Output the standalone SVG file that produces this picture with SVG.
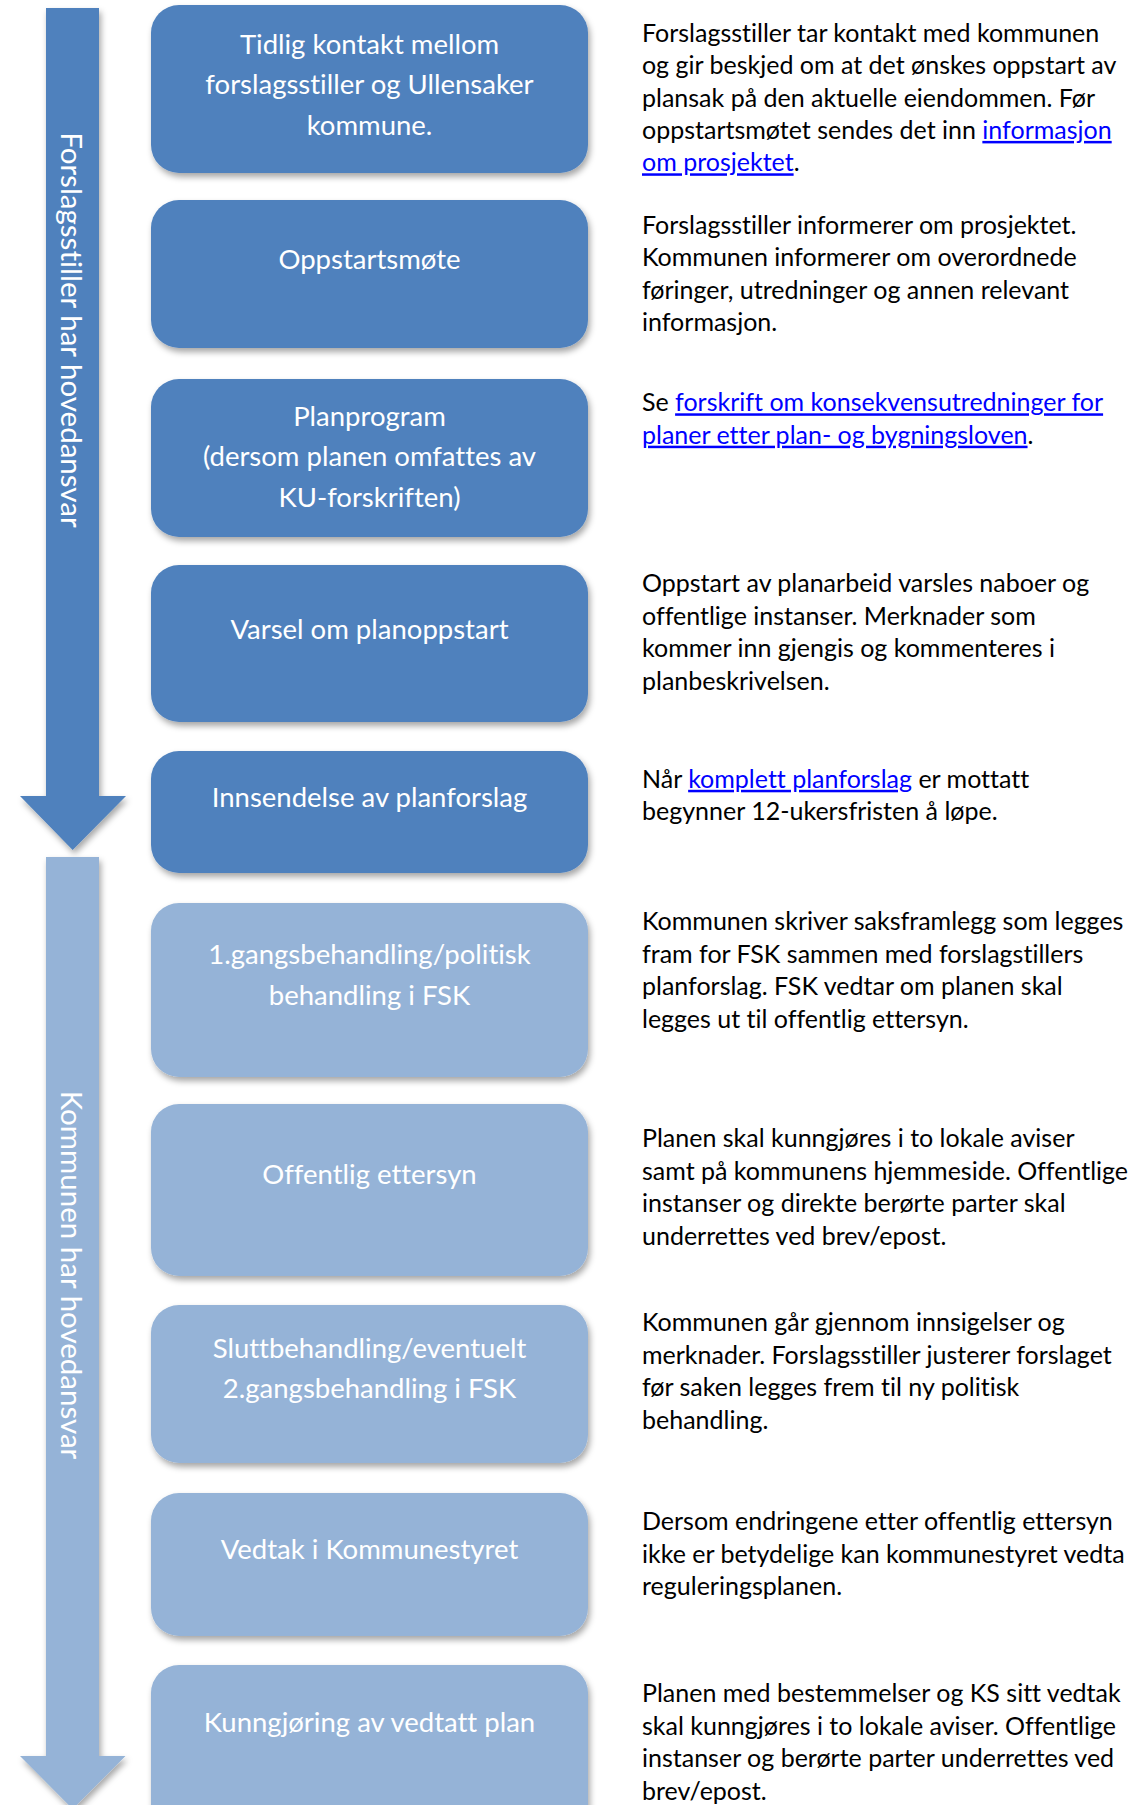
<svg xmlns="http://www.w3.org/2000/svg" width="1133" height="1805" viewBox="0 0 1133 1805">
<defs>
<filter id="sh" x="-10%" y="-10%" width="125%" height="130%">
<feDropShadow dx="2" dy="4" stdDeviation="3" flood-color="#000" flood-opacity="0.35"/>
</filter>
<style>
text{font-variant-ligatures:none;font-feature-settings:"liga" 0,"clig" 0,"dlig" 0}
.dark{fill:#4F81BD}
.light{fill:#95B3D7}
.box{filter:url(#sh)}
.lbl{fill:#FFFFFF;font-family:Lato,"Liberation Sans",sans-serif;font-size:27.5px;text-anchor:middle}
.vlbl{fill:#FFFFFF;font-family:Lato,"Liberation Sans",sans-serif;font-size:29.5px;text-anchor:middle}
.desc{fill:#000000;font-family:Lato,"Liberation Sans",sans-serif;font-size:25px}
.link{fill:#0000FF;text-decoration:underline}
</style>
</defs>
<rect width="1133" height="1805" fill="#FFFFFF"/>

<g id="connectors">
<g id="arrow-forslagsstiller">
<path class="dark box" d="M46,8 H99 V796 H126 L72.7,850 L20,796 H46 Z"/>
<text class="vlbl" transform="translate(61,330) rotate(90)">Forslagsstiller har hovedansvar</text>
</g>
<g id="arrow-kommunen">
<path class="light box" d="M46,857 H99 V1756 H125.5 L72.7,1809 L20,1756 H46 Z"/>
<text class="vlbl" transform="translate(61,1275) rotate(90)">Kommunen har hovedansvar</text>
</g>
</g>

<g id="step1">
<rect class="dark box" x="151" y="5" width="437" height="168" rx="28"/>
<text class="lbl" x="369.5" y="53.5">Tidlig kontakt mellom</text>
<text class="lbl" x="369.5" y="94">forslagsstiller og Ullensaker</text>
<text class="lbl" x="369.5" y="134.5">kommune.</text>
</g>
<g id="step2">
<rect class="dark box" x="151" y="200" width="437" height="148" rx="28"/>
<text class="lbl" x="369.5" y="268.5">Oppstartsmøte</text>
</g>
<g id="step3">
<rect class="dark box" x="151" y="379" width="437" height="158" rx="28"/>
<text class="lbl" x="369.5" y="425.5">Planprogram</text>
<text class="lbl" x="369.5" y="466">(dersom planen omfattes av</text>
<text class="lbl" x="369.5" y="506.5">KU-forskriften)</text>
</g>
<g id="step4">
<rect class="dark box" x="151" y="565" width="437" height="157" rx="28"/>
<text class="lbl" x="369.5" y="638.5">Varsel om planoppstart</text>
</g>
<g id="step5">
<rect class="dark box" x="151" y="751" width="437" height="122" rx="28"/>
<text class="lbl" x="369.5" y="806.5">Innsendelse av planforslag</text>
</g>
<g id="step6">
<rect class="light box" x="151" y="903" width="437" height="174" rx="28"/>
<text class="lbl" x="369.5" y="964">1.gangsbehandling/politisk</text>
<text class="lbl" x="369.5" y="1004.5">behandling i FSK</text>
</g>
<g id="step7">
<rect class="light box" x="151" y="1104" width="437" height="172" rx="28"/>
<text class="lbl" x="369.5" y="1183.5">Offentlig ettersyn</text>
</g>
<g id="step8">
<rect class="light box" x="151" y="1305" width="437" height="158" rx="28"/>
<text class="lbl" x="369.5" y="1357.5">Sluttbehandling/eventuelt</text>
<text class="lbl" x="369.5" y="1398">2.gangsbehandling i FSK</text>
</g>
<g id="step9">
<rect class="light box" x="151" y="1493" width="437" height="143" rx="28"/>
<text class="lbl" x="369.5" y="1558.5">Vedtak i Kommunestyret</text>
</g>
<g id="step10">
<rect class="light box" x="151" y="1665" width="437" height="170" rx="28"/>
<text class="lbl" x="369.5" y="1731.5">Kunngjøring av vedtatt plan</text>
</g>

<g id="descriptions">
<g id="desc1">
<text class="desc" x="642" y="41.7">Forslagsstiller tar kontakt med kommunen</text>
<text class="desc" x="642" y="74.1">og gir beskjed om at det ønskes oppstart av</text>
<text class="desc" x="642" y="106.5">plansak på den aktuelle eiendommen. Før</text>
<text class="desc" x="642" y="138.9">oppstartsmøtet sendes det inn <tspan class="link">informasjon</tspan></text>
<text class="desc" x="642" y="171.3"><tspan class="link">om prosjektet</tspan>.</text>
</g>
<g id="desc2">
<text class="desc" x="642" y="234">Forslagsstiller informerer om prosjektet.</text>
<text class="desc" x="642" y="266.4">Kommunen informerer om overordnede</text>
<text class="desc" x="642" y="298.8">føringer, utredninger og annen relevant</text>
<text class="desc" x="642" y="331.2">informasjon.</text>
</g>
<g id="desc3">
<text class="desc" x="642" y="411.3">Se <tspan class="link">forskrift om konsekvensutredninger for</tspan></text>
<text class="desc" x="642" y="443.7"><tspan class="link">planer etter plan- og bygningsloven</tspan>.</text>
</g>
<g id="desc4">
<text class="desc" x="642" y="592.3">Oppstart av planarbeid varsles naboer og</text>
<text class="desc" x="642" y="624.7">offentlige instanser. Merknader som</text>
<text class="desc" x="642" y="657.1">kommer inn gjengis og kommenteres i</text>
<text class="desc" x="642" y="689.5">planbeskrivelsen.</text>
</g>
<g id="desc5">
<text class="desc" x="642" y="787.8">Når <tspan class="link">komplett planforslag</tspan> er mottatt</text>
<text class="desc" x="642" y="820.2">begynner 12-ukersfristen å løpe.</text>
</g>
<g id="desc6">
<text class="desc" x="642" y="930.3">Kommunen skriver saksframlegg som legges</text>
<text class="desc" x="642" y="962.7">fram for FSK sammen med forslagstillers</text>
<text class="desc" x="642" y="995.1">planforslag. FSK vedtar om planen skal</text>
<text class="desc" x="642" y="1027.5">legges ut til offentlig ettersyn.</text>
</g>
<g id="desc7">
<text class="desc" x="642" y="1147.3">Planen skal kunngjøres i to lokale aviser</text>
<text class="desc" x="642" y="1179.7">samt på kommunens hjemmeside. Offentlige</text>
<text class="desc" x="642" y="1212.1">instanser og direkte berørte parter skal</text>
<text class="desc" x="642" y="1244.5">underrettes ved brev/epost.</text>
</g>
<g id="desc8">
<text class="desc" x="642" y="1331.3">Kommunen går gjennom innsigelser og</text>
<text class="desc" x="642" y="1363.7">merknader. Forslagsstiller justerer forslaget</text>
<text class="desc" x="642" y="1396.1">før saken legges frem til ny politisk</text>
<text class="desc" x="642" y="1428.5">behandling.</text>
</g>
<g id="desc9">
<text class="desc" x="642" y="1530.3">Dersom endringene etter offentlig ettersyn</text>
<text class="desc" x="642" y="1562.7">ikke er betydelige kan kommunestyret vedta</text>
<text class="desc" x="642" y="1595.1">reguleringsplanen.</text>
</g>
<g id="desc10">
<text class="desc" x="642" y="1702.3">Planen med bestemmelser og KS sitt vedtak</text>
<text class="desc" x="642" y="1734.7">skal kunngjøres i to lokale aviser. Offentlige</text>
<text class="desc" x="642" y="1767.1">instanser og berørte parter underrettes ved</text>
<text class="desc" x="642" y="1799.5">brev/epost.</text>
</g>
</g>
</svg>
